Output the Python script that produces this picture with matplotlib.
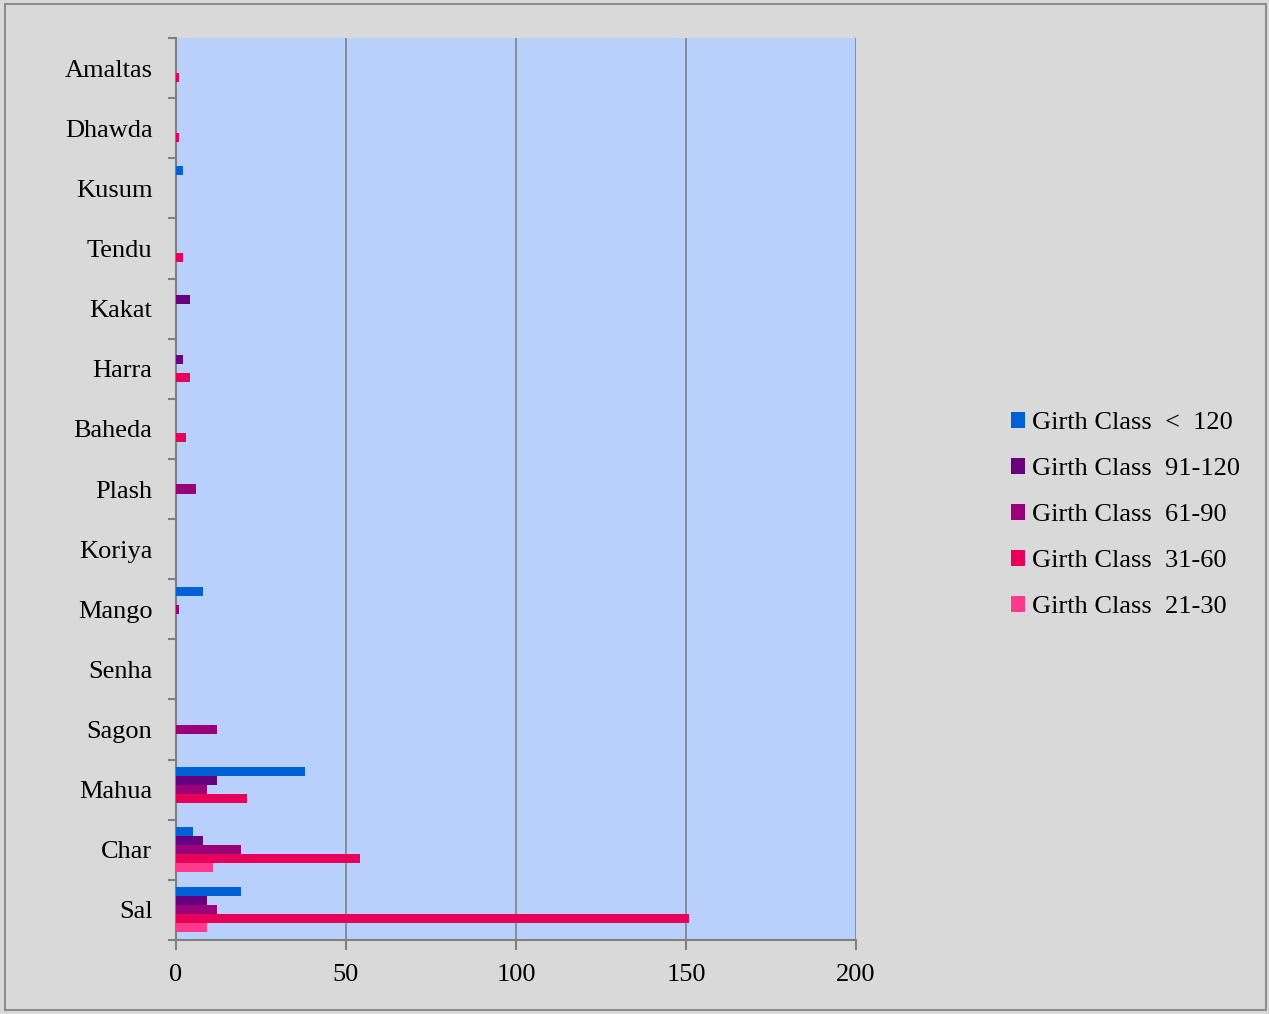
import matplotlib
matplotlib.use("Agg")
import matplotlib.pyplot as plt
from matplotlib.patches import Rectangle
import numpy as np

categories = ["Sal", "Char", "Mahua", "Sagon", "Senha", "Mango", "Koriya", "Plash",
              "Baheda", "Harra", "Kakat", "Tendu", "Kusum", "Dhawda", "Amaltas"]
series_names = ["Girth Class  <  120", "Girth Class  91-120", "Girth Class  61-90",
                "Girth Class  31-60", "Girth Class  21-30"]
lt120   = [19, 5, 38, 0, 0, 8, 0, 0, 0, 0, 0, 0, 2, 0, 0]
g91_120 = [9, 8, 12, 0, 0, 0, 0, 0, 0, 2, 4, 0, 0, 0, 0]
g61_90  = [12, 19, 9, 12, 0, 1, 0, 6, 0, 0, 0, 0, 0, 0, 0]
g31_60  = [151, 54, 21, 0, 0, 0, 0, 0, 3, 4, 0, 2, 0, 1, 1]
g21_30  = [9, 11, 0, 0, 0, 0, 0, 0, 0, 0, 0, 0, 0, 0, 0]
series = [lt120, g91_120, g61_90, g31_60, g21_30]
colors = ["#0060D6", "#66007F", "#9A0078", "#E6005A", "#FF3A8C"]

plt.rcParams['font.family'] = ['Liberation Serif', 'DejaVu Serif']

fig = plt.figure(figsize=(12.69, 10.14), dpi=100, facecolor="#d9d9d9")
fig.patches.append(Rectangle((5/1269, 4/1014), 1261/1269, 1006/1014, transform=fig.transFigure,
                             fill=False, edgecolor="#8c8c8c", linewidth=1.5))
ax = fig.add_axes([176/1269, 1 - 940/1014, 680/1269, 902/1014])
ax.set_facecolor("#b9d0fc")

y = np.arange(len(categories))
h = 0.15
offsets = [0.3, 0.15, 0.0, -0.15, -0.3]
for vals, off, col, name in zip(series, offsets, colors, series_names):
    ax.barh(y + off, vals, height=h, color=col, linewidth=0, label=name, zorder=3)

ax.set_xlim(0, 200)
ax.set_ylim(-0.5, len(categories) - 0.5)
ax.set_xticks([0, 50, 100, 150, 200])
ax.set_xticklabels(["0", "50", "100", "150", "200"], fontsize=19)
ax.xaxis.grid(True, color="#808080", linewidth=1.2, zorder=1)
ax.set_axisbelow(True)

ax.set_yticks(y)
ax.set_yticklabels(categories, fontsize=19)
ax.set_yticks(np.arange(-0.5, len(categories), 1), minor=True)
ax.tick_params(axis='y', which='major', length=0, pad=17)
ax.tick_params(axis='y', which='minor', length=6, width=1.5, color="#808080", direction='out')
ax.tick_params(axis='x', which='major', length=7, width=1.5, color="#808080", pad=10)

for side in ["top", "right"]:
    ax.spines[side].set_visible(False)
ax.spines["left"].set_color("#808080")
ax.spines["left"].set_linewidth(1.5)
ax.spines["bottom"].set_color("#808080")
ax.spines["bottom"].set_linewidth(1.5)

leg = fig.legend(loc="center left", bbox_to_anchor=(1000/1269, 1 - 515/1014), frameon=False,
                 fontsize=19, handlelength=0.55, handleheight=0.55, handletextpad=0.25,
                 labelspacing=0.9, borderaxespad=0)

fig.savefig("out.png", dpi=100, facecolor=fig.get_facecolor())
